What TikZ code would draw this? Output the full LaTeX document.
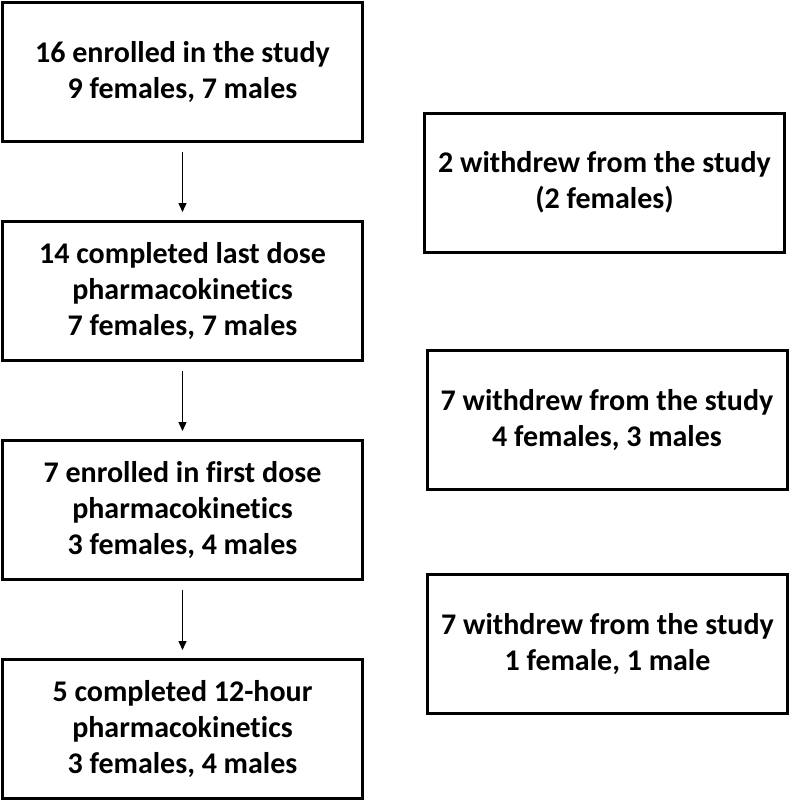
\documentclass[tikz,border=0pt]{standalone}
\usepackage{fontspec}
\setmainfont{Carlito}[Ligatures=NoCommon]
\usetikzlibrary{arrows.meta}
\begin{document}
\begin{tikzpicture}[x=1pt,y=-1pt,
  box/.style={draw=black, line width=3pt, minimum width=360pt, minimum height=139pt,
    align=center, inner sep=0pt, font=\fontsize{30}{36}\selectfont\bfseries},
  flow/.style={-{Triangle[length=9pt,width=8pt]}, line width=1.4pt,
    shorten <=9pt, shorten >=8pt}]
\useasboundingbox (0,0) rectangle (792,803);
\node[box] (a) at (182.5,72) {16 enrolled in the study\\9 females, 7 males};
\node[box] (b) at (182.5,291) {14 completed last dose\\pharmacokinetics\\7 females, 7 males};
\node[box] (c) at (182.5,510) {7 enrolled in first dose\\pharmacokinetics\\3 females, 4 males};
\node[box] (d) at (182.5,729) {5 completed 12-hour\\pharmacokinetics\\3 females, 4 males};
\node[box] (r1) at (604.5,182.5) {2 withdrew from the study\\(2 females)};
\node[box] (r2) at (607,419.5) {7 withdrew from the study\\4 females, 3 males};
\node[box] (r3) at (607.5,643.5) {7 withdrew from the study\\1 female, 1 male};
\draw[flow] (a) -- (b);
\draw[flow] (b) -- (c);
\draw[flow] (c) -- (d);
\end{tikzpicture}
\end{document}
